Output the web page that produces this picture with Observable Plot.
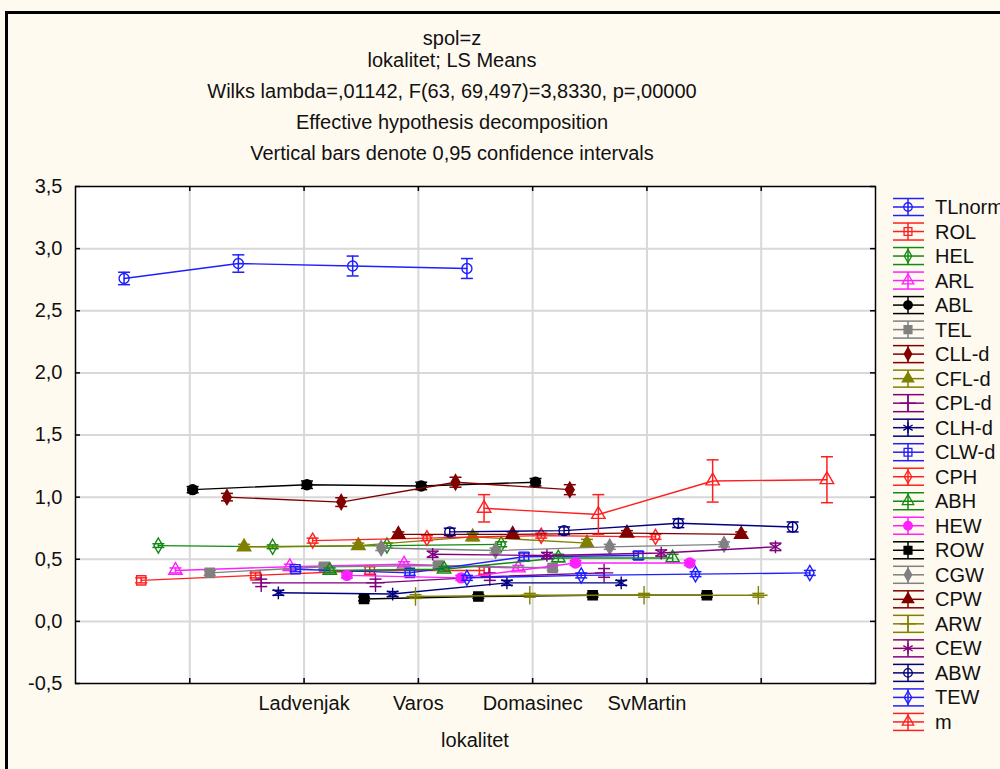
<!DOCTYPE html>
<html><head><meta charset="utf-8">
<script src="https://cdn.jsdelivr.net/npm/d3@7"></script>
<script src="https://cdn.jsdelivr.net/npm/@observablehq/plot@0.6"></script>
<style>
html,body{margin:0;padding:0;background:#fffaf0;}
#wrap{position:relative;width:1000px;height:769px;overflow:hidden;font-family:"Liberation Sans",Arial,sans-serif;color:#111;background:#fffaf0;}
.bl{position:absolute;left:5px;top:11px;width:3px;height:758px;background:#000}
.bt{position:absolute;left:5px;top:11px;width:995px;height:3px;background:#000}
.t{position:absolute;left:0;width:904px;text-align:center;font-size:20px;line-height:22px;white-space:nowrap}
.ax{position:absolute;left:0;width:950px;text-align:center;font-size:20px;line-height:22px}
#wrap svg{position:absolute;left:0;top:0}
</style></head><body>
<div id="wrap">
<div class="bl"></div><div class="bt"></div>
<div class="t" style="top:27px">spol=z</div>
<div class="t" style="top:49px">lokalitet; LS Means</div>
<div class="t" style="top:80px">Wilks lambda=,01142, F(63, 69,497)=3,8330, p=,00000</div>
<div class="t" style="top:111px">Effective hypothesis decomposition</div>
<div class="t" style="top:142px">Vertical bars denote 0,95 confidence intervals</div>
<div class="ax" style="top:729px">lokalitet</div>
</div>
<script>
// ---------- data ----------
const categories = ["Ladvenjak", "Varos", "Domasinec", "SvMartin"];
const seriesNames = ["TLnorm","ROL","HEL","ARL","ABL","TEL","CLL-d","CFL-d","CPL-d","CLH-d","CLW-d","CPH","ABH","HEW","ROW","CGW","CPW","ARW","CEW","ABW","TEW","m"];
const meansLadvenjak = [2.76,0.33,0.61,0.41,1.06,0.39,1.00,0.60,0.31,0.23,0.42,0.65,0.41,0.37,0.18,0.59,0.70,0.20,0.54,0.72,0.35,0.91];
const meansVaros     = [2.88,0.37,0.60,0.44,1.10,0.44,0.96,0.61,0.31,0.22,0.39,0.67,0.42,0.35,0.20,0.57,0.70,0.21,0.53,0.73,0.37,0.86];
const meansDomasinec = [2.86,0.41,0.61,0.46,1.09,0.45,1.12,0.68,0.36,0.31,0.52,0.69,0.51,0.47,0.21,0.60,0.71,0.21,0.55,0.79,0.38,1.13];
const meansSvMartin  = [2.84,0.41,0.62,0.43,1.12,0.43,1.06,0.63,0.39,0.31,0.53,0.68,0.51,0.47,0.21,0.62,0.70,0.21,0.60,0.76,0.39,1.14];
const ciLadvenjak = [0.05,0.02,0.015,0.02,0.025,0.02,0.03,0.02,0.03,0.02,0.02,0.02,0.02,0.02,0.015,0.02,0.02,0.015,0.025,0.03,0.02,0.11];
const ciVaros     = [0.07,0.02,0.015,0.02,0.03,0.02,0.035,0.02,0.03,0.02,0.02,0.02,0.02,0.02,0.015,0.02,0.02,0.015,0.025,0.03,0.02,0.16];
const ciDomasinec = [0.08,0.03,0.02,0.02,0.03,0.02,0.04,0.03,0.03,0.02,0.03,0.02,0.03,0.02,0.015,0.02,0.02,0.015,0.025,0.035,0.02,0.17];
const ciSvMartin  = [0.08,0.03,0.02,0.02,0.03,0.02,0.04,0.03,0.035,0.02,0.03,0.02,0.03,0.02,0.015,0.02,0.02,0.015,0.03,0.04,0.02,0.185];
const yTickValues = [-0.5,0,0.5,1,1.5,2,2.5,3,3.5];
const xTickValues = [1,2,3,4,5,6];

// ---------- styles ----------
const seriesColors = ["#1f1fff","#ff1f1f","#108a10","#ff1fff","#000000","#808080","#800000","#808000","#800080","#000080","#1f1fff","#ff1f1f","#108a10","#ff1fff","#000000","#808080","#800000","#808000","#800080","#000080","#1f1fff","#ff1f1f"];
const seriesSymbols = ["circle","square","diamond","triangle","circle","square","diamond","triangle","plus","asterisk","square","diamond","triangle","circle","square","diamond","triangle","plus","asterisk","circle","diamond","triangle"];
const seriesFilled = [false,false,false,false,true,true,true,true,false,false,false,false,false,true,true,true,true,false,false,false,false,false];
const symbolR = {circle: 5, square: 5.2, diamond: 4.6, triangle: 5, plus: 6, asterisk: 6};

// ---------- table ----------
const meansByCat = [meansLadvenjak, meansVaros, meansDomasinec, meansSvMartin];
const ciByCat = [ciLadvenjak, ciVaros, ciDomasinec, ciSvMartin];
const nS = seriesNames.length;
const rows = seriesNames.flatMap((s, i) => categories.map((c, j) => ({
  series: s, cat: c,
  x: j + 2 + (i - (nS - 1) / 2) * 0.15,
  mean: meansByCat[j][i],
  lo: meansByCat[j][i] - ciByCat[j][i],
  hi: meansByCat[j][i] + ciByCat[j][i]
})));

const capSymbol = {draw(ctx, size) { const w = Math.sqrt(size / Math.PI); ctx.moveTo(-w, 0); ctx.lineTo(w, 0); }};
const fmtY = d => d3.format(".1f")(d).replace(".", ",").replace("−", "-");
const xLabel = d => (d >= 2 && d <= 5) ? categories[d - 2] : "";

const seriesMarks = seriesNames.flatMap((s, i) => {
  const data = rows.filter(r => r.series === s);
  const col = seriesColors[i];
  return [
    Plot.line(data, {x: "x", y: "mean", stroke: col, strokeWidth: 1.4}),
    Plot.ruleX(data, {x: "x", y1: "lo", y2: "hi", stroke: col, strokeWidth: 1.5}),
    Plot.dot(data, {x: "x", y: "hi", symbol: capSymbol, r: 6, stroke: col, strokeWidth: 1.5}),
    Plot.dot(data, {x: "x", y: "lo", symbol: capSymbol, r: 6, stroke: col, strokeWidth: 1.5}),
    Plot.dot(data, {x: "x", y: "mean", symbol: seriesSymbols[i], r: symbolR[seriesSymbols[i]],
      fill: seriesFilled[i] ? col : "none", stroke: col, strokeWidth: 1.4})
  ];
});

const chart = Plot.plot({
  width: 1000, height: 769,
  marginLeft: 75, marginRight: 125, marginTop: 186, marginBottom: 86,
  style: {background: "transparent", fontFamily: "'Liberation Sans', Arial, sans-serif", fontSize: "20px", color: "#111"},
  x: {domain: [0, 7], label: null},
  y: {domain: [-0.5, 3.5], label: null},
  marks: [
    Plot.frame({fill: "white", stroke: null}),
    Plot.gridX(xTickValues, {stroke: "#d8d8d8", strokeOpacity: 1, strokeWidth: 2}),
    Plot.gridY(yTickValues.slice(1, -1), {stroke: "#d8d8d8", strokeOpacity: 1, strokeWidth: 2}),
    Plot.axisX(xTickValues, {tickSize: 0, tickPadding: 12, tickFormat: xLabel, fontSize: 20, label: null}),
    Plot.axisY(yTickValues, {tickSize: 0, tickPadding: 13, tickFormat: fmtY, fontSize: 20, label: null}),
    ...seriesMarks,
    Plot.tickX(xTickValues, {x: d => d, stroke: "#000", strokeWidth: 1.5, insetTop: 492}),
    Plot.tickX(xTickValues, {x: d => d, stroke: "#000", strokeWidth: 1.5, insetBottom: 492}),
    Plot.tickY(yTickValues, {y: d => d, stroke: "#000", strokeWidth: 1.5, insetLeft: 795}),
    Plot.tickY(yTickValues, {y: d => d, stroke: "#000", strokeWidth: 1.5, insetRight: 795}),
    Plot.frame({stroke: "#000", strokeWidth: 1.5})
  ]
});
document.getElementById("wrap").appendChild(chart);

// ---------- legend ----------
const d3sym = {circle: d3.symbolCircle, square: d3.symbolSquare, diamond: d3.symbolDiamond, triangle: d3.symbolTriangle, plus: d3.symbolPlus, asterisk: d3.symbolAsterisk};
const leg = d3.select("#wrap").append("svg").attr("width", 1000).attr("height", 769);
seriesNames.forEach((s, i) => {
  const col = seriesColors[i];
  const g = leg.append("g").attr("transform", `translate(908,${207 + i * 24.52})`);
  [-8.5, 0, 8.5].forEach(yy => g.append("line").attr("x1", -15).attr("x2", 16).attr("y1", yy).attr("y2", yy).attr("stroke", col).attr("stroke-width", 1.5));
  g.append("line").attr("x1", 0).attr("x2", 0).attr("y1", -8.5).attr("y2", 8.5).attr("stroke", col).attr("stroke-width", 1.5);
  const rr = symbolR[seriesSymbols[i]] * 0.85;
  g.append("path").attr("d", d3.symbol(d3sym[seriesSymbols[i]], Math.PI * rr * rr)())
    .attr("fill", seriesFilled[i] ? col : "none").attr("stroke", col).attr("stroke-width", 1.3);
  g.append("text").attr("x", 27).attr("y", 0).attr("dy", "0.35em").attr("font-size", 20)
    .attr("font-family", "'Liberation Sans', Arial, sans-serif").attr("fill", "#111").text(s);
});
</script>
</body></html>
